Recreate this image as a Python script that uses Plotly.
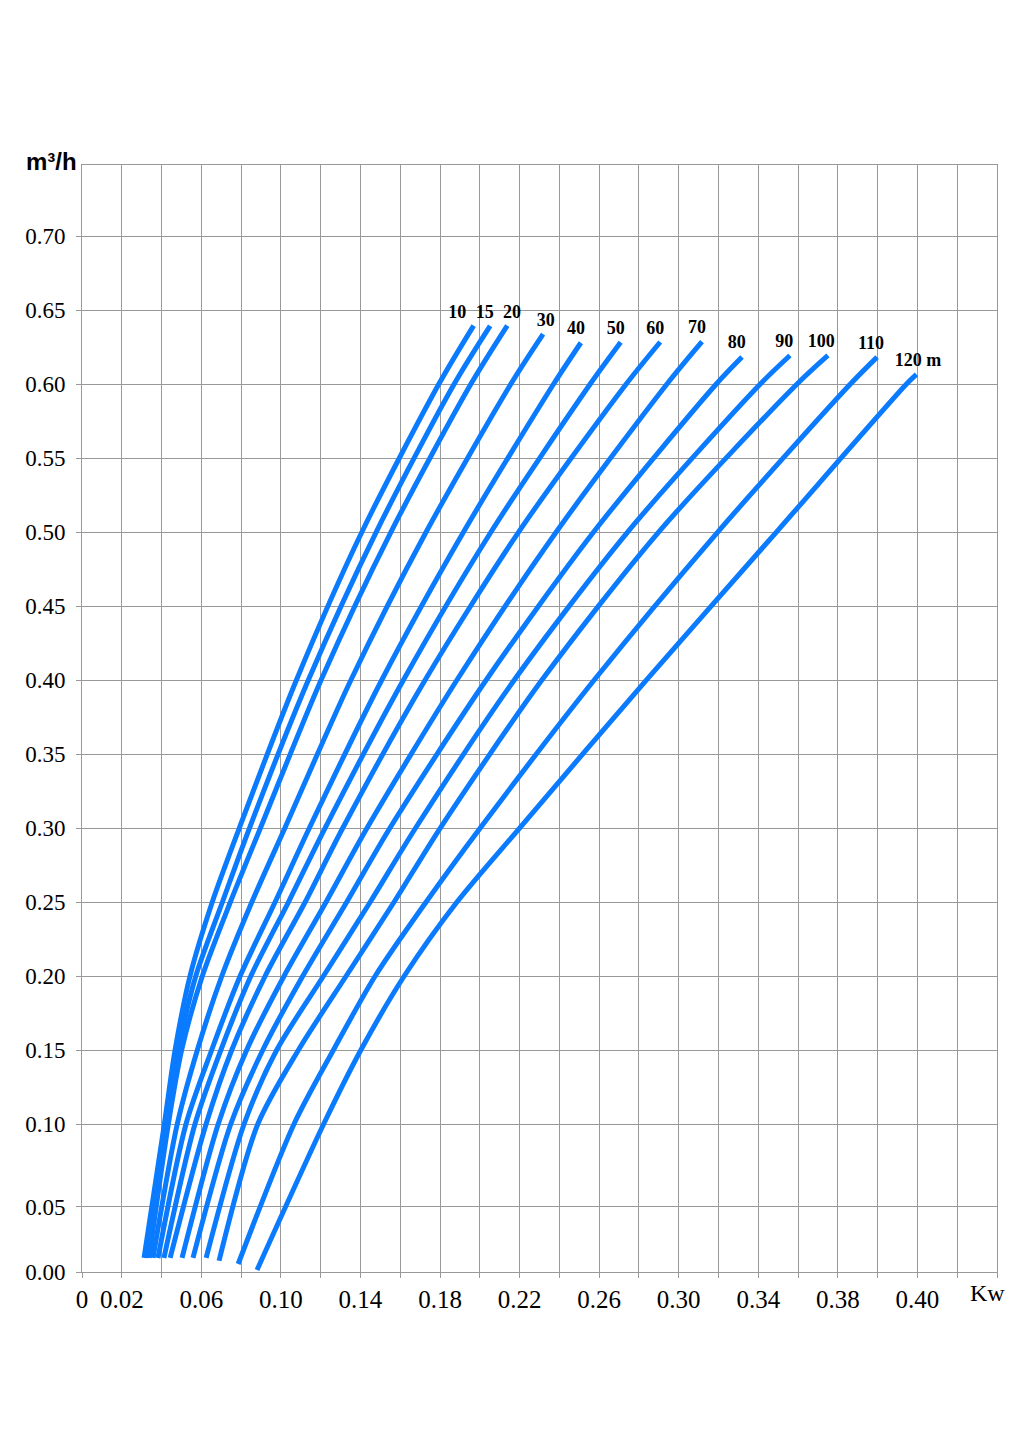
import plotly.graph_objects as go

# pump heads (one curve each) and their labels
HEADS = ["10", "15", "20", "30", "40", "50", "60", "70", "80", "90", "100", "110", "120"]
LABEL_TEXT = ["10", "15", "20", "30", "40", "50", "60", "70", "80", "90", "100", "110", "120 m"]

# flow levels (m3/h) where the power of every curve was read
FLOW_LEVELS = [0.10, 0.15, 0.20, 0.25, 0.30, 0.40, 0.50, 0.60]

# power (Kw) of each curve at each flow level
POWER_Q010 = [0.0414, 0.0423, 0.0434, 0.0479, 0.0523, 0.0568, 0.0624, 0.0685, 0.0748, 0.0815, 0.0884, 0.1066, 0.1215]
POWER_Q015 = [0.0468, 0.0484, 0.0501, 0.0580, 0.0652, 0.0698, 0.0753, 0.0828, 0.0909, 0.0979, 0.1088, 0.1264, 0.1402]
POWER_Q020 = [0.0543, 0.0572, 0.0605, 0.0703, 0.0795, 0.0849, 0.0921, 0.1016, 0.1110, 0.1214, 0.1328, 0.1474, 0.1620]
POWER_Q025 = [0.0655, 0.0706, 0.0746, 0.0854, 0.0971, 0.1038, 0.1122, 0.1227, 0.1331, 0.1449, 0.1569, 0.1730, 0.1885]
POWER_Q030 = [0.0791, 0.0842, 0.0897, 0.1020, 0.1143, 0.1222, 0.1311, 0.1433, 0.1548, 0.1677, 0.1801, 0.2002, 0.2200]
POWER_Q040 = [0.1078, 0.1138, 0.1202, 0.1352, 0.1507, 0.1616, 0.1725, 0.1885, 0.2032, 0.2173, 0.2312, 0.2575, 0.2837]
POWER_Q050 = [0.1407, 0.1479, 0.1553, 0.1730, 0.1918, 0.2056, 0.2195, 0.2384, 0.2572, 0.2743, 0.2899, 0.3196, 0.3491]
POWER_Q060 = [0.1794, 0.1871, 0.1955, 0.2156, 0.2371, 0.2555, 0.2736, 0.2941, 0.3189, 0.3410, 0.3595, 0.3863, 0.4145]

# start (bottom) and end (top) points of each curve
START_POWER = [0.0312, 0.0322, 0.0337, 0.0357, 0.0382, 0.0412, 0.0443, 0.0503, 0.0558, 0.0624, 0.0689, 0.0785, 0.0880]
START_FLOW = [0.0095, 0.0095, 0.0095, 0.0095, 0.0095, 0.0095, 0.0095, 0.0095, 0.0095, 0.0095, 0.0076, 0.0054, 0.0014]
END_POWER = [0.1969, 0.2052, 0.2138, 0.2318, 0.2508, 0.2708, 0.2907, 0.3117, 0.3318, 0.3559, 0.3750, 0.3997, 0.4195]
END_FLOW = [0.6395, 0.6393, 0.6395, 0.6337, 0.6279, 0.6282, 0.6284, 0.6286, 0.6182, 0.6193, 0.6193, 0.6182, 0.6065]

# label anchor points
LABEL_POWER = [0.1887, 0.2025, 0.2162, 0.2332, 0.2484, 0.2683, 0.2882, 0.3092, 0.3292, 0.3530, 0.3716, 0.3966, 0.4203]
LABEL_FLOW = [0.6477, 0.6477, 0.6477, 0.6421, 0.6368, 0.6368, 0.6368, 0.6374, 0.6274, 0.6282, 0.6282, 0.6270, 0.6153]

# axis ticks (the source chart prints "0.40" on the 0.42 line)
X_TICKS = [round(0.02 * i, 2) for i in range(24)]
X_TICK_LABELS = {0.0: "0", 0.02: "0.02", 0.06: "0.06", 0.10: "0.10", 0.14: "0.14", 0.18: "0.18",
                 0.22: "0.22", 0.26: "0.26", 0.30: "0.30", 0.34: "0.34", 0.38: "0.38", 0.42: "0.40"}
Y_TICKS = [0.0, 0.044, 0.10, 0.15, 0.20, 0.25, 0.30, 0.35, 0.40, 0.45, 0.50, 0.55, 0.60, 0.65, 0.70]
Y_TICK_LABELS = ["0.00", "0.05", "0.10", "0.15", "0.20", "0.25", "0.30", "0.35", "0.40",
                 "0.45", "0.50", "0.55", "0.60", "0.65", "0.70"]

BLUE = "#0A7BFF"
GRID = "#999999"
SERIF = "Liberation Serif"

level_columns = [POWER_Q010, POWER_Q015, POWER_Q020, POWER_Q025,
                 POWER_Q030, POWER_Q040, POWER_Q050, POWER_Q060]

fig = go.Figure()

for i, head in enumerate(HEADS):
    xs = [START_POWER[i]] + [col[i] for col in level_columns] + [END_POWER[i]]
    ys = [START_FLOW[i]] + FLOW_LEVELS + [END_FLOW[i]]
    fig.add_scatter(
        x=xs,
        y=ys,
        mode="lines",
        name=head,
        line={"color": BLUE, "width": 5, "shape": "spline", "smoothing": 0.8},
        hoverinfo="skip",
    )

fig.add_scatter(
    x=LABEL_POWER,
    y=LABEL_FLOW,
    mode="text",
    text=LABEL_TEXT,
    textfont={"family": SERIF, "size": 18, "color": "black", "weight": "bold"},
    hoverinfo="skip",
)

fig.add_annotation(
    text="m³/h", xref="paper", yref="paper", x=-0.033, y=1.003,
    xanchor="center", yanchor="middle", showarrow=False,
    font={"family": "Liberation Sans", "size": 24, "color": "black", "weight": "bold"},
)
fig.add_annotation(
    text="Kw", xref="paper", yref="paper", x=0.990, y=-0.019,
    xanchor="center", yanchor="middle", showarrow=False,
    font={"family": SERIF, "size": 24, "color": "black"},
)

# the page adds an 8 px body margin, so the margins are shifted by that amount
fig.update_layout(
    width=1024,
    height=1448,
    margin={"l": 74, "r": 35, "t": 157, "b": 184},
    plot_bgcolor="white",
    paper_bgcolor="white",
    showlegend=False,
    xaxis={
        "range": [0, 0.46],
        "tickmode": "array",
        "tickvals": X_TICKS,
        "ticktext": [X_TICK_LABELS.get(v, "") for v in X_TICKS],
        "ticks": "outside",
        "ticklen": 5,
        "tickcolor": GRID,
        "showgrid": True,
        "gridcolor": GRID,
        "gridwidth": 1,
        "zeroline": False,
        "showline": True,
        "mirror": True,
        "linecolor": GRID,
        "linewidth": 1,
        "tickfont": {"family": SERIF, "size": 25, "color": "black"},
    },
    yaxis={
        "range": [0, 0.748],
        "tickmode": "array",
        "tickvals": Y_TICKS,
        "ticktext": Y_TICK_LABELS,
        "ticks": "outside",
        "ticklen": 5,
        "tickcolor": GRID,
        "ticklabelstandoff": 6,
        "showgrid": True,
        "gridcolor": GRID,
        "gridwidth": 1,
        "zeroline": False,
        "showline": True,
        "mirror": True,
        "linecolor": GRID,
        "linewidth": 1,
        "tickfont": {"family": SERIF, "size": 23, "color": "black"},
    },
)

fig.write_html("out.html")
